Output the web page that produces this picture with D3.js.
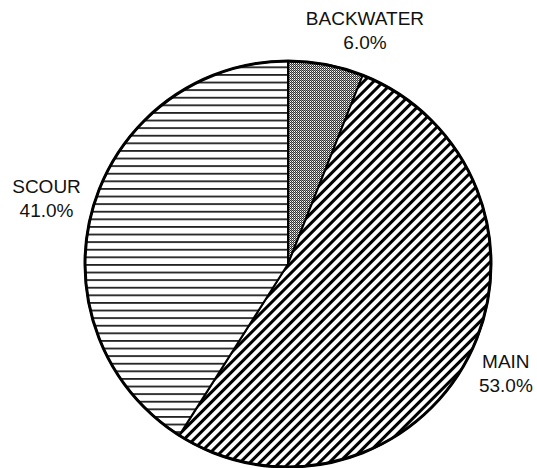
<!DOCTYPE html>
<html>
<head>
<meta charset="utf-8">
<script src="https://cdn.jsdelivr.net/npm/d3@7/dist/d3.min.js"></script>
<style>
  html, body { margin: 0; padding: 0; background: #fff; }
  svg { display: block; }
  text { font-family: "Liberation Sans", Arial, sans-serif; }
</style>
</head>
<body>
<script>
const categories = ["BACKWATER", "MAIN", "SCOUR"];
const values = [6.0, 53.0, 41.0];
const valueLabels = ["6.0%", "53.0%", "41.0%"];
const patternIds = ["pat-dots", "pat-diag", "pat-horiz"];

const W = 537, H = 468;
const cx = 288, cy = 264, R = 203;
const labelR = 240;
const labelNudge = [[32, 2], [4, 0], [-11, 1]];

const svg = d3.select("body").append("svg").attr("width", W).attr("height", H);
const defs = svg.append("defs");

// checker / dotted gray
const p1 = defs.append("pattern").attr("id", "pat-dots")
  .attr("patternUnits", "userSpaceOnUse").attr("width", 2).attr("height", 2);
p1.append("rect").attr("width", 2).attr("height", 2).attr("fill", "#fff");
p1.append("rect").attr("x", 0).attr("y", 0).attr("width", 1).attr("height", 1).attr("fill", "#333");
p1.append("rect").attr("x", 1).attr("y", 1).attr("width", 1).attr("height", 1).attr("fill", "#333");
p1.append("rect").attr("x", 1).attr("y", 0).attr("width", 1).attr("height", 1).attr("fill", "#999");

// diagonal stripes "/"
const p2 = defs.append("pattern").attr("id", "pat-diag")
  .attr("patternUnits", "userSpaceOnUse").attr("width", 7).attr("height", 7)
  .attr("patternTransform", "rotate(-45)");
p2.append("rect").attr("width", 7).attr("height", 7).attr("fill", "#fff");
p2.append("rect").attr("y", 0).attr("width", 7).attr("height", 3).attr("fill", "#000");

// horizontal lines
const p3 = defs.append("pattern").attr("id", "pat-horiz")
  .attr("patternUnits", "userSpaceOnUse").attr("width", 8).attr("height", 7.6);
p3.append("rect").attr("width", 8).attr("height", 7.6).attr("fill", "#fff");
p3.append("rect").attr("y", 0).attr("width", 8).attr("height", 1.8).attr("fill", "#222");

const data = categories.map((c, i) => ({ name: c, value: values[i], label: valueLabels[i], pat: patternIds[i], i }));

const pie = d3.pie().sort(null).value(d => d.value);
const arcs = pie(data);
const arc = d3.arc().innerRadius(0).outerRadius(R);
const labelArc = d3.arc().innerRadius(labelR).outerRadius(labelR);

const g = svg.append("g").attr("transform", `translate(${cx},${cy})`);

g.selectAll("path.slice").data(arcs).join("path")
  .attr("class", "slice")
  .attr("d", arc)
  .attr("fill", d => `url(#${d.data.pat})`)
  .attr("stroke", "#000")
  .attr("stroke-width", 2)
  .attr("stroke-linejoin", "round");

g.append("circle").attr("r", R).attr("fill", "none").attr("stroke", "#000").attr("stroke-width", 3);

const lbl = g.selectAll("g.lbl").data(arcs).join("g").attr("class", "lbl")
  .attr("transform", d => {
    const [x, y] = labelArc.centroid(d);
    const n = labelNudge[d.data.i];
    return `translate(${x + n[0]},${y + n[1]})`;
  });
lbl.append("text").attr("text-anchor", "middle").attr("y", -5)
  .attr("font-size", 19).attr("fill", "#111").text(d => d.data.name);
lbl.append("text").attr("text-anchor", "middle").attr("y", 19)
  .attr("font-size", 19).attr("fill", "#111").text(d => d.data.label);
</script>
</body>
</html>
